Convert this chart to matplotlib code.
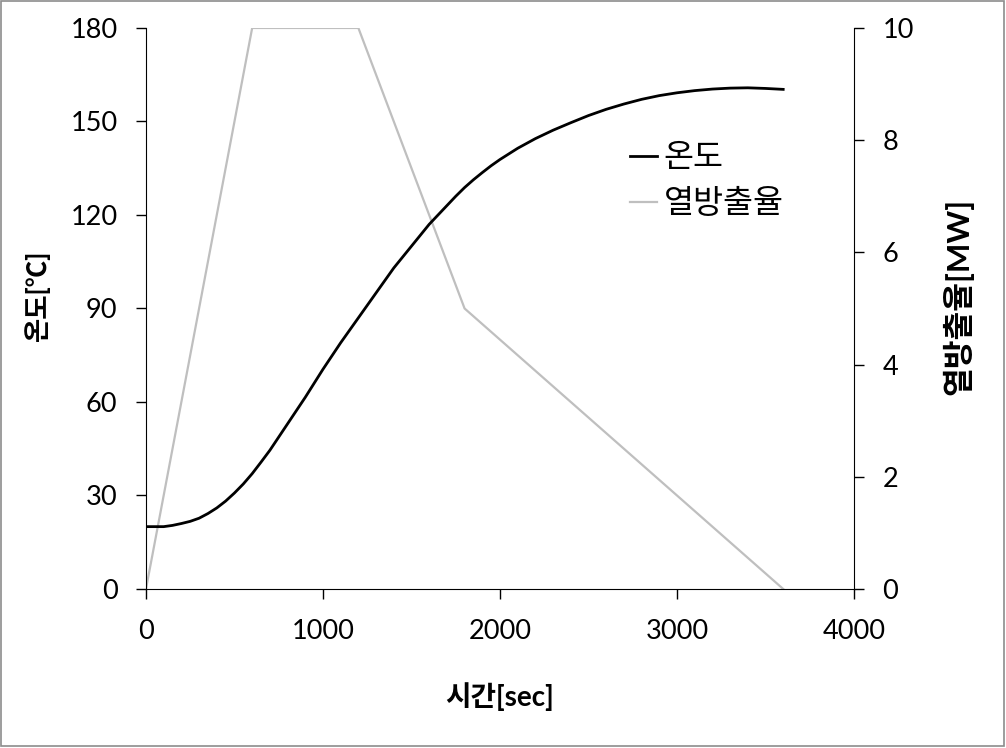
import matplotlib
matplotlib.use("Agg")
import matplotlib.pyplot as plt
from matplotlib.patches import Rectangle

plt.rcParams["font.family"] = ["Lato", "Noto Sans CJK KR", "DejaVu Sans"]

# ============================================================
# Data
# ============================================================
time_temp = [0, 100, 150, 200, 250, 300, 350, 400, 450, 500, 550, 600, 650,
             700, 800, 900, 1000, 1100, 1200, 1300, 1400, 1500, 1600, 1700,
             1750, 1800, 1850, 1900, 1950, 2000, 2100, 2200, 2300, 2400,
             2500, 2600, 2700, 2800, 2900, 3000, 3100, 3200, 3300, 3400,
             3500, 3600]                                        # sec
temperature = [20, 20, 20.4, 21, 21.7, 22.7, 24.2, 26, 28.2, 30.8, 33.7,
               37, 40.7, 44.5, 53, 61.5, 70.5, 79, 87, 95, 103, 110, 117,
               123, 126, 128.8, 131.3, 133.6, 135.8, 137.8, 141.4, 144.5,
               147.2, 149.6, 151.9, 153.9, 155.6, 157.1, 158.3, 159.2,
               159.9, 160.4, 160.7, 160.8, 160.6, 160.3]        # °C

time_hrr = [0, 600, 1200, 1800, 3600]                           # sec
heat_release = [0, 10, 10, 5, 0]                                # MW

X_TICKS = [0, 1000, 2000, 3000, 4000]
T_TICKS = [0, 30, 60, 90, 120, 150, 180]
Q_TICKS = [0, 2, 4, 6, 8, 10]

TICK_FS = 19.5

# ============================================================
# Figure
# ============================================================
fig = plt.figure(figsize=(10.06, 7.48), dpi=100)
ax = fig.add_axes([0.1451, 0.2126, 0.7038, 0.75])
ax2 = ax.twinx()

ax2.plot(time_hrr, heat_release, color="#bfbfbf", linewidth=1.6,
         label="열방출율")
ax.plot(time_temp, temperature, color="black", linewidth=2.0,
        label="온도")

# temperature line drawn above the heat release line
ax.set_zorder(ax2.get_zorder() + 1)
ax.patch.set_visible(False)

ax.set_xlim(0, 4000)
ax.set_ylim(0, 180)
ax2.set_ylim(0, 10)
ax.set_xticks(X_TICKS)
ax.set_yticks(T_TICKS)
ax2.set_yticks(Q_TICKS)

for a in (ax, ax2):
    a.spines["top"].set_visible(False)
ax.spines["right"].set_visible(False)
ax2.spines["left"].set_visible(False)
ax2.spines["bottom"].set_visible(False)

ax.tick_params(axis="y", direction="out", length=7.5, width=1,
               labelsize=TICK_FS, pad=13)
ax.tick_params(axis="x", direction="out", length=7.5, width=1,
               labelsize=TICK_FS, pad=14)
ax2.tick_params(axis="y", direction="out", length=7.5, width=1,
                labelsize=TICK_FS, pad=13)

ax.set_xlabel("시간[sec]", fontsize=20, fontweight="bold")
ax.set_ylabel("온도[℃]", fontsize=19, fontweight="bold")
ax2.set_ylabel("열방출율[MW]", fontsize=22.5, fontweight="bold")
ax.xaxis.set_label_coords(0.5, -0.166)
ax.yaxis.set_label_coords(-0.1356, 0.524)
ax2.yaxis.set_label_coords(1.125, 0.522)

# legend
h1, l1 = ax.get_legend_handles_labels()
h2, l2 = ax2.get_legend_handles_labels()
ax.legend(h1 + h2, l1 + l2, loc="upper left", bbox_to_anchor=(0.683, 0.795),
          frameon=False, fontsize=23.5, handlelength=0.85, handletextpad=0.2,
          borderpad=0, borderaxespad=0, labelspacing=0.5)

# grey border round the chart area
fig.patches.append(Rectangle((0.001, 0.003), 0.997, 0.995,
                             transform=fig.transFigure, fill=False,
                             edgecolor="#8c8c8c", linewidth=1.2))

fig.savefig("out.png", dpi=100)
